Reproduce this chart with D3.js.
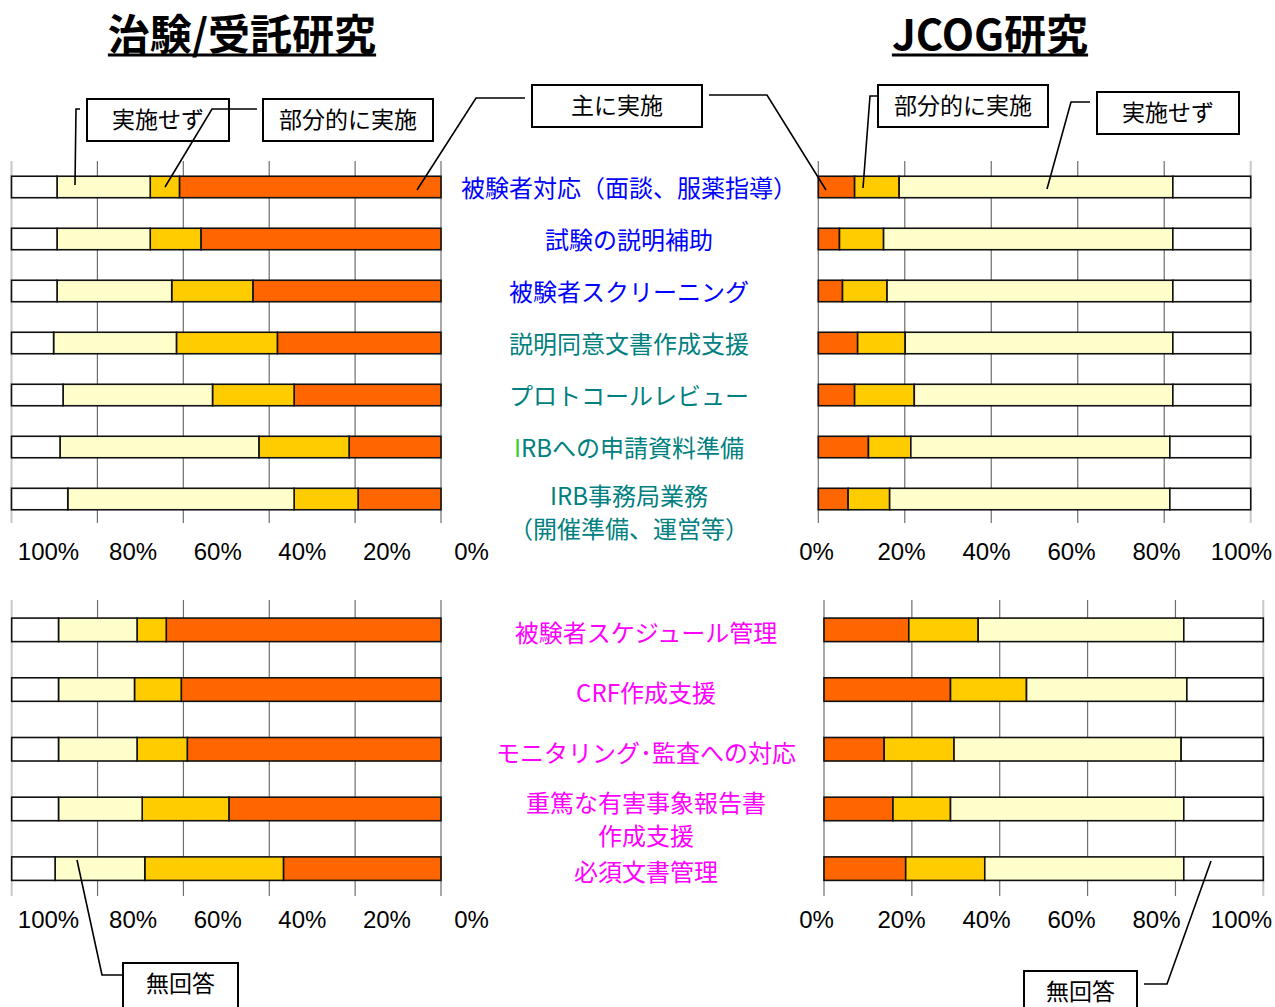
<!DOCTYPE html>
<html lang="ja">
<head>
  <meta charset="UTF-8">
  <title>治験/受託研究 と JCOG研究</title>
  <script src="https://d3js.org/d3.v7.min.js"></script>
  <style>
    body { margin: 0; background: #fff; }
    svg { display: block; }
    .tick-label { font-family: "Liberation Sans", Arial, sans-serif; font-size: 24px; fill: #000; }
    .cat { font-family: "Noto Sans CJK JP", sans-serif; font-size: 24px; }
    .note { font-family: "Noto Sans CJK JP", sans-serif; font-size: 23px; fill: #000; }
  </style>
</head>
<body>
<div id="chart"></div>
<script>
// categories (upper and lower blocks)
var topCats = ["被験者対応（面談、服薬指導）", "試験の説明補助", "被験者スクリーニング",
  "説明同意文書作成支援", "プロトコールレビュー", "IRBへの申請資料準備", "IRB事務局業務\n（開催準備、運営等）"];
var bottomCats = ["被験者スケジュール管理", "CRF作成支援", "モニタリング･監査への対応",
  "重篤な有害事象報告書\n作成支援", "必須文書管理"];

var seriesKeys = ["主に実施", "部分的に実施", "実施せず", "無回答"];
var ticks = [0, 20, 40, 60, 80, 100];

// 治験/受託研究 (left side), percent
var trialTopMain    = [60.9, 55.9, 43.8, 38.1, 34.2, 21.4, 19.3];
var trialTopPartial = [6.8, 11.8, 18.9, 23.5, 19.0, 21.0, 14.9];
var trialTopNone    = [21.7, 21.7, 26.7, 28.6, 34.8, 46.3, 52.7];
var trialTopNoAns   = [10.6, 10.6, 10.6, 9.8, 12.0, 11.3, 13.1];

var trialBotMain    = [64.0, 60.5, 59.1, 49.4, 36.7];
var trialBotPartial = [6.8, 10.9, 11.7, 20.2, 32.3];
var trialBotNone    = [18.3, 17.7, 18.3, 19.5, 20.9];
var trialBotNoAns   = [10.9, 10.9, 10.9, 10.9, 10.1];

// JCOG研究 (right side), percent
var jcogTopMain    = [8.4, 4.9, 5.6, 9.1, 8.4, 11.6, 6.9];
var jcogTopPartial = [10.3, 10.2, 10.3, 11.0, 13.8, 9.8, 9.6];
var jcogTopNone    = [63.3, 66.9, 66.1, 61.9, 59.8, 59.9, 64.8];
var jcogTopNoAns   = [18.0, 18.0, 18.0, 18.0, 18.0, 18.7, 18.7];

var jcogBotMain    = [19.3, 28.8, 13.7, 15.7, 18.6];
var jcogBotPartial = [15.8, 17.3, 15.9, 13.1, 18.0];
var jcogBotNone    = [46.8, 36.5, 51.7, 53.1, 45.3];
var jcogBotNoAns   = [18.1, 17.4, 18.7, 18.1, 18.1];

// styles
var colors = {"主に実施": "#ff6600", "部分的に実施": "#ffcc00", "実施せず": "#ffffcc", "無回答": "#ffffff"};
var topLabelColors = ["#0000ff", "#0000ff", "#0000ff", "#008080", "#008080", "#008080", "#008080"];
var bottomLabelColor = "#ff00ff";

var width = 1275, height = 1007;
var svg = d3.select("#chart").append("svg")
  .attr("width", width)
  .attr("height", height);

function makeRows(cats, main, partial, none, noAns) {
  return cats.map(function(c, i) {
    return {cat: c, "主に実施": main[i], "部分的に実施": partial[i], "実施せず": none[i], "無回答": noAns[i]};
  });
}

var stack = d3.stack().keys(seriesKeys);

// one panel of 100% stacked bars
// the percent labels sit on their own scale (labelX): in the slide they are not centred under the gridlines
function drawPanel(rows, x, labelX, y, gridTop, gridBottom, labelY) {
  var g = svg.append("g");

  // vertical gridlines
  g.selectAll("line.grid")
    .data(ticks)
    .enter().append("line")
      .attr("x1", function(d) { return x(d); })
      .attr("x2", function(d) { return x(d); })
      .attr("y1", gridTop)
      .attr("y2", gridBottom)
      .attr("stroke", function(d) { return d === 100 ? "#c8c8c8" : "#6e6e6e"; })
      .attr("stroke-width", function(d) { return d === 100 ? 2 : 1.2; });

  // bars
  var layers = stack(rows);
  g.selectAll("g.layer")
    .data(layers)
    .enter().append("g")
      .attr("fill", function(d) { return colors[d.key]; })
    .selectAll("rect")
    .data(function(d) { return d; })
    .enter().append("rect")
      .attr("x", function(d) { return Math.min(x(d[0]), x(d[1])); })
      .attr("width", function(d) { return Math.abs(x(d[1]) - x(d[0])); })
      .attr("y", function(d) { return y(d.data.cat); })
      .attr("height", y.bandwidth())
      .attr("stroke", "#111")
      .attr("stroke-width", 1.6);

  // percent labels
  var axis = d3.axisBottom(labelX)
    .tickValues(ticks)
    .tickSize(0)
    .tickFormat(function(d) { return d + "%"; });
  var ax = g.append("g")
    .attr("transform", "translate(0," + labelY + ")")
    .call(axis);
  ax.select(".domain").remove();
  ax.selectAll("text")
    .attr("class", "tick-label")
    .attr("dy", "0.35em")
    .attr("y", 0)
    .attr("font-size", null)
    .attr("font-family", null);
}

// scales
var xTL = d3.scaleLinear().domain([0, 100]).range([441, 11.5]);
var xTR = d3.scaleLinear().domain([0, 100]).range([818.3, 1250.7]);
var xBL = d3.scaleLinear().domain([0, 100]).range([441, 11.7]);
var xBR = d3.scaleLinear().domain([0, 100]).range([824, 1263.3]);
var labelLeft = d3.scaleLinear().domain([0, 100]).range([471, 48]);
var labelRight = d3.scaleLinear().domain([0, 100]).range([816, 1241]);

var yTop = d3.scaleBand().domain(topCats).range([161, 525]).paddingInner(0.587).paddingOuter(0.293);
var yBot = d3.scaleBand().domain(bottomCats).range([600, 898.5]).paddingInner(0.606).paddingOuter(0.303);

drawPanel(makeRows(topCats, trialTopMain, trialTopPartial, trialTopNone, trialTopNoAns), xTL, labelLeft, yTop, 161, 523, 552);
drawPanel(makeRows(topCats, jcogTopMain, jcogTopPartial, jcogTopNone, jcogTopNoAns), xTR, labelRight, yTop, 161, 523, 552);
drawPanel(makeRows(bottomCats, trialBotMain, trialBotPartial, trialBotNone, trialBotNoAns), xBL, labelLeft, yBot, 600, 896, 920);
drawPanel(makeRows(bottomCats, jcogBotMain, jcogBotPartial, jcogBotNone, jcogBotNoAns), xBR, labelRight, yBot, 600, 896, 920);

// category labels in the middle
function drawCats(cats, y, cx, colorOf, firstOffset, singleOffset) {
  cats.forEach(function(c, i) {
    var lines = c.split("\n");
    var yc = y(c) + y.bandwidth() / 2;
    lines.forEach(function(line, j) {
      var yy = lines.length > 1 ? yc + firstOffset + j * 33 : yc + singleOffset;
      var t = svg.append("text")
        .attr("class", "cat")
        .attr("x", cx)
        .attr("y", yy)
        .attr("dy", "0.36em")
        .attr("text-anchor", "middle")
        .attr("fill", colorOf(i));
      if (line.indexOf("IRBへ") === 0) {
        // the leading "I" is green in the original slide
        t.append("tspan").attr("fill", "#33cc33").text("I");
        t.append("tspan").text(line.slice(1));
      } else {
        t.text(line);
      }
    });
  });
}
drawCats(topCats, yTop, 629, function(i) { return topLabelColors[i]; }, -3, 1);
drawCats(bottomCats, yBot, 646, function() { return bottomLabelColor; }, -6, 4);

// titles
function title(txt, cx, size) {
  var t = svg.append("text")
    .attr("x", cx)
    .attr("y", 50)
    .attr("text-anchor", "middle")
    .attr("font-family", "'Noto Sans CJK JP', sans-serif")
    .attr("font-weight", "bold")
    .attr("font-size", size)
    .text(txt);
  var w = t.node().getComputedTextLength();
  svg.append("line")
    .attr("x1", cx - w / 2).attr("x2", cx + w / 2)
    .attr("y1", 55).attr("y2", 55)
    .attr("stroke", "#000").attr("stroke-width", 3);
}
title("治験/受託研究", 242, 42);
title("JCOG研究", 990, 42);

// callout boxes with leader lines
var notes = [
  {text: "実施せず", x: 87, y: 99, w: 142, h: 42, path: [[80, 109], [76, 109], [75, 185]]},
  {text: "部分的に実施", x: 263, y: 99, w: 170, h: 42, path: [[257, 109], [212, 109], [165, 187]]},
  {text: "主に実施", x: 532, y: 85, w: 170, h: 42, path: [[525, 98], [476, 98], [417, 190]]},
  {text: "主に実施", x: 532, y: 85, w: 170, h: 42, path: [[709, 95], [767, 95], [826, 190]]},
  {text: "部分的に実施", x: 878, y: 85, w: 170, h: 42, path: [[877, 96], [870, 96], [863, 188]]},
  {text: "実施せず", x: 1097, y: 92, w: 142, h: 42, path: [[1090, 102], [1071, 102], [1047, 189]]},
  {text: "無回答", x: 123, y: 963, w: 115, h: 46, path: [[77, 860], [102, 975], [122, 975]]},
  {text: "無回答", x: 1024, y: 971, w: 113, h: 40, path: [[1211, 861], [1167, 984], [1144, 984]]}
];
var line = d3.line();
notes.forEach(function(n) {
  svg.append("path")
    .attr("d", line(n.path))
    .attr("fill", "none")
    .attr("stroke", "#000")
    .attr("stroke-width", 1.6);
  svg.append("rect")
    .attr("x", n.x).attr("y", n.y)
    .attr("width", n.w).attr("height", n.h)
    .attr("fill", "#fff")
    .attr("stroke", "#000")
    .attr("stroke-width", 2);
  svg.append("text")
    .attr("class", "note")
    .attr("x", n.x + n.w / 2)
    .attr("y", n.y + 21)
    .attr("dy", "0.36em")
    .attr("text-anchor", "middle")
    .text(n.text);
});
</script>
</body>
</html>
